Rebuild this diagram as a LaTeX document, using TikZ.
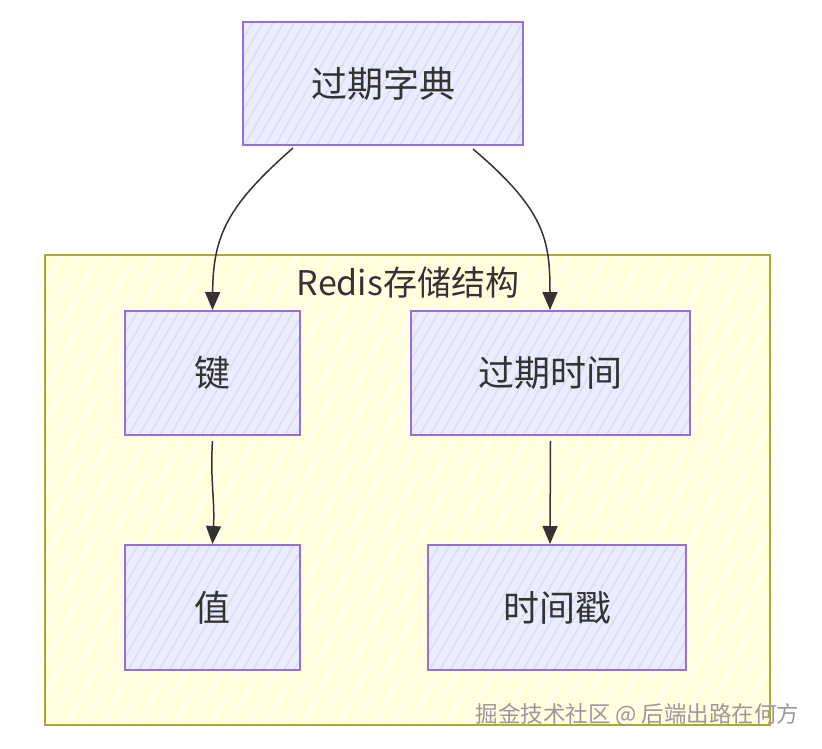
\documentclass[tikz,border=0pt]{standalone}
\usepackage{fontspec}
\setmainfont{Noto Sans CJK SC}
\usetikzlibrary{arrows.meta,patterns.meta}
\definecolor{boxfill}{HTML}{ECECFF}
\definecolor{boxhatch}{HTML}{DCDCF6}
\definecolor{boxline}{HTML}{9370DB}
\definecolor{clfill}{HTML}{FFFFDE}
\definecolor{clhatch}{HTML}{FFFFF4}
\definecolor{clline}{HTML}{AAAA33}
\definecolor{txt}{HTML}{333333}
\tikzset{
  proc/.style={draw=boxline, line width=2pt, rectangle,
    preaction={fill=boxfill},
    preaction={pattern={Lines[angle=60,distance=9pt,line width=1.6pt]}, pattern color=boxhatch},
    text=txt, font=\fontsize{36}{40}\selectfont, inner sep=0pt},
  clusterbox/.style={draw=clline, line width=2pt, rectangle,
    preaction={fill=clfill},
    preaction={pattern={Lines[angle=62,distance=16pt,line width=1.6pt]}, pattern color=clhatch},
    inner sep=0pt},
  conn/.style={draw=txt, line width=1.5pt, -{Triangle[length=18pt,width=15pt]}},
}
\begin{document}
\begin{tikzpicture}[x=1pt,y=-1pt]
\useasboundingbox (0,0) rectangle (822,748);
\fill[white] (0,0) rectangle (822,748);
\node[clusterbox, minimum width=725pt, minimum height=470pt] (cl) at (407.5,490) {};
\node[text=txt, font=\fontsize{34}{38}\selectfont] (cltitle) at (408,283) {Redis存储结构};
\node[proc, minimum width=280pt, minimum height=123pt] (dict) at (383,83.5) {过期字典};
\node[proc, minimum width=175pt, minimum height=124pt] (key) at (212.5,373) {键};
\node[proc, minimum width=279pt, minimum height=124pt] (exp) at (550.5,373) {过期时间};
\node[proc, minimum width=175pt, minimum height=125pt] (val) at (212.5,607.5) {值};
\node[proc, minimum width=258pt, minimum height=125pt] (ts) at (557,607.5) {时间戳};
\draw[conn] ([xshift=-90pt,yshift=-2pt]dict.south) .. controls (228,205) and (213,235) .. (key.north);
\draw[conn] ([xshift=90pt,yshift=-3pt]dict.south) .. controls (545,210) and (550,240) .. ([xshift=-0.5pt]exp.north);
\draw[conn] ([yshift=-5pt]key.south) .. controls (210,480) and (215,500) .. (val.north);
\draw[conn] ([yshift=-5pt]exp.south) -- ([xshift=-7pt]ts.north);
\node[text=gray!80, font=\fontsize{22.5}{25}\selectfont, anchor=east] (wm) at (803,715) {掘金技术社区 @ 后端出路在何方};
\end{tikzpicture}
\end{document}
